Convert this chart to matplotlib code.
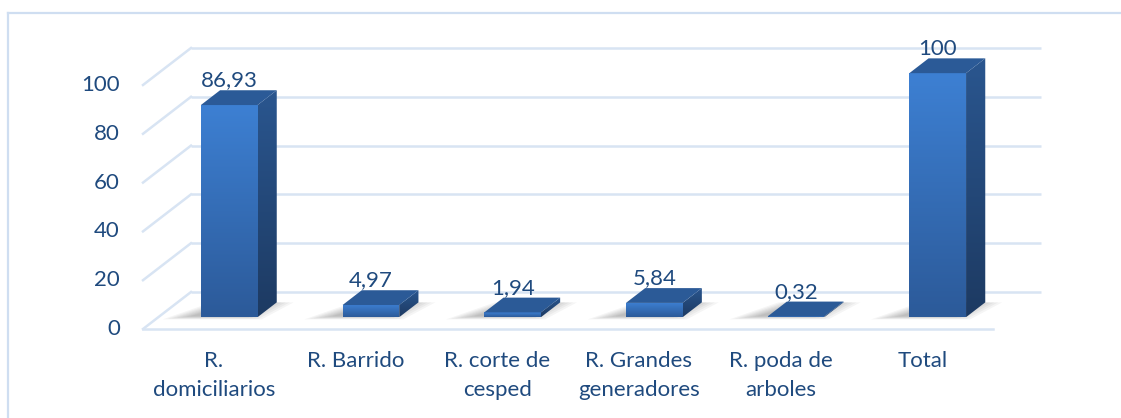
import matplotlib
matplotlib.use("Agg")
import matplotlib.pyplot as plt
import numpy as np
from matplotlib.patches import Polygon
from matplotlib.colors import LinearSegmentedColormap
from matplotlib.lines import Line2D

# ---- data ----
categories = ["R.\ndomiciliarios", "R. Barrido", "R. corte de\ncesped",
              "R. Grandes\ngeneradores", "R. poda de\narboles", "Total"]
values = [86.93, 4.97, 1.94, 5.84, 0.32, 100]
value_labels = ["86,93", "4,97", "1,94", "5,84", "0,32", "100"]
yticks = [0, 20, 40, 60, 80, 100]

plt.rcParams['font.family'] = ['Lato', 'DejaVu Sans']
TXT = '#1F4A7E'
GRID = '#D8E4F3'
FS = 16

W, H = 1121, 418
fig = plt.figure(figsize=(W / 100, H / 100), dpi=100)
ax = fig.add_axes([0, 0, 1, 1])

# layout (pixel scales)
px_x = 141.7
px_y = 2.44
x0_px, y0_px = 143, 329
ax.set_xlim(-0.5 - x0_px / px_x, -0.5 + (W - x0_px) / px_x)
ax.set_ylim(-(H - y0_px) / px_y, y0_px / px_y)
ax.axis('off')

DX = 48 / px_x
DY = 37 / px_y
n = len(values)
xmin, xmax = -0.5, n - 0.5


def P(x, y, d):
    return (x + d * DX, y + d * DY)


# outer chart border
fig.add_artist(Line2D([8 / W, 8 / W], [0, 1 - 13 / H], transform=fig.transFigure,
                      color='#CFDEF1', lw=1.6))
fig.add_artist(Line2D([8 / W, 1], [1 - 13 / H, 1 - 13 / H], transform=fig.transFigure,
                      color='#CFDEF1', lw=1.6))

# gridlines (back wall + left wall diagonals)
for v in yticks:
    a, b = P(xmin, v, 1), P(xmax, v, 1)
    ax.plot([a[0], b[0]], [a[1], b[1]], color=GRID, lw=1.8, zorder=1,
            solid_capstyle='butt')
    c = P(xmin, v, 0)
    ax.plot([c[0], a[0]], [c[1], a[1]], color=GRID, lw=1.8, zorder=1)
    ax.text(xmin - 23 / px_x, v, str(v), ha='right', va='center',
            fontsize=FS, color=TXT)
a, b = P(xmin, 0, 0), P(xmax, 0, 0)
ax.plot([a[0], b[0]], [a[1], b[1]], color=GRID, lw=1.8, zorder=1)

front_cmap = LinearSegmentedColormap.from_list('f', ['#2C5A99', '#3D80D3'])
side_cmap = LinearSegmentedColormap.from_list('s', ['#1D3A62', '#2A568F'])
TOP = '#2B5A97'

hw = 0.2
df, db = 0.32, 0.72


def grad_poly(pts, cmap, z):
    poly = Polygon(pts, closed=True, facecolor='none', edgecolor='none', zorder=z)
    ax.add_patch(poly)
    xs = [p[0] for p in pts]
    ys = [p[1] for p in pts]
    grad = np.linspace(0, 1, 256).reshape(-1, 1)
    im = ax.imshow(grad, cmap=cmap, aspect='auto', origin='lower',
                   extent=[min(xs), max(xs), min(ys), max(ys)], zorder=z,
                   interpolation='bilinear')
    im.set_clip_path(poly)


for i, v in enumerate(values):
    # soft shadow on floor
    for k in range(7):
        e = 0.028 * k
        sh = [P(i - hw - 0.25 + e, 0, df - 0.06 + e * 0.5), P(i + hw + 0.05 - e, 0, df - 0.06 + e * 0.5),
              P(i + hw + 0.12 - e, 0, db), P(i - hw - 0.06 + e, 0, db)]
        ax.add_patch(Polygon(sh, closed=True, facecolor='#000000', alpha=0.04,
                             edgecolor='none', zorder=2))
    front = [P(i - hw, 0, df), P(i + hw, 0, df), P(i + hw, v, df), P(i - hw, v, df)]
    side = [P(i + hw, 0, df), P(i + hw, 0, db), P(i + hw, v, db), P(i + hw, v, df)]
    top = [P(i - hw, v, df), P(i + hw, v, df), P(i + hw, v, db), P(i - hw, v, db)]
    grad_poly(front, front_cmap, 4)
    grad_poly(side, side_cmap, 4)
    ax.add_patch(Polygon(top, closed=True, facecolor=TOP, edgecolor='none', zorder=4))
    lx, ly = P(i, v, df)
    ax.text(lx, v + db * DY + 4.0, value_labels[i], ha='center', va='center',
            fontsize=FS, color=TXT, zorder=6)
    ax.text(i, -22 / px_y, categories[i], ha='center', va='top', fontsize=FS,
            color=TXT, linespacing=1.55)

ax.set_xlim(-0.5 - x0_px / px_x, -0.5 + (W - x0_px) / px_x)
ax.set_ylim(-(H - y0_px) / px_y, y0_px / px_y)

fig.savefig('out.png', dpi=100)
